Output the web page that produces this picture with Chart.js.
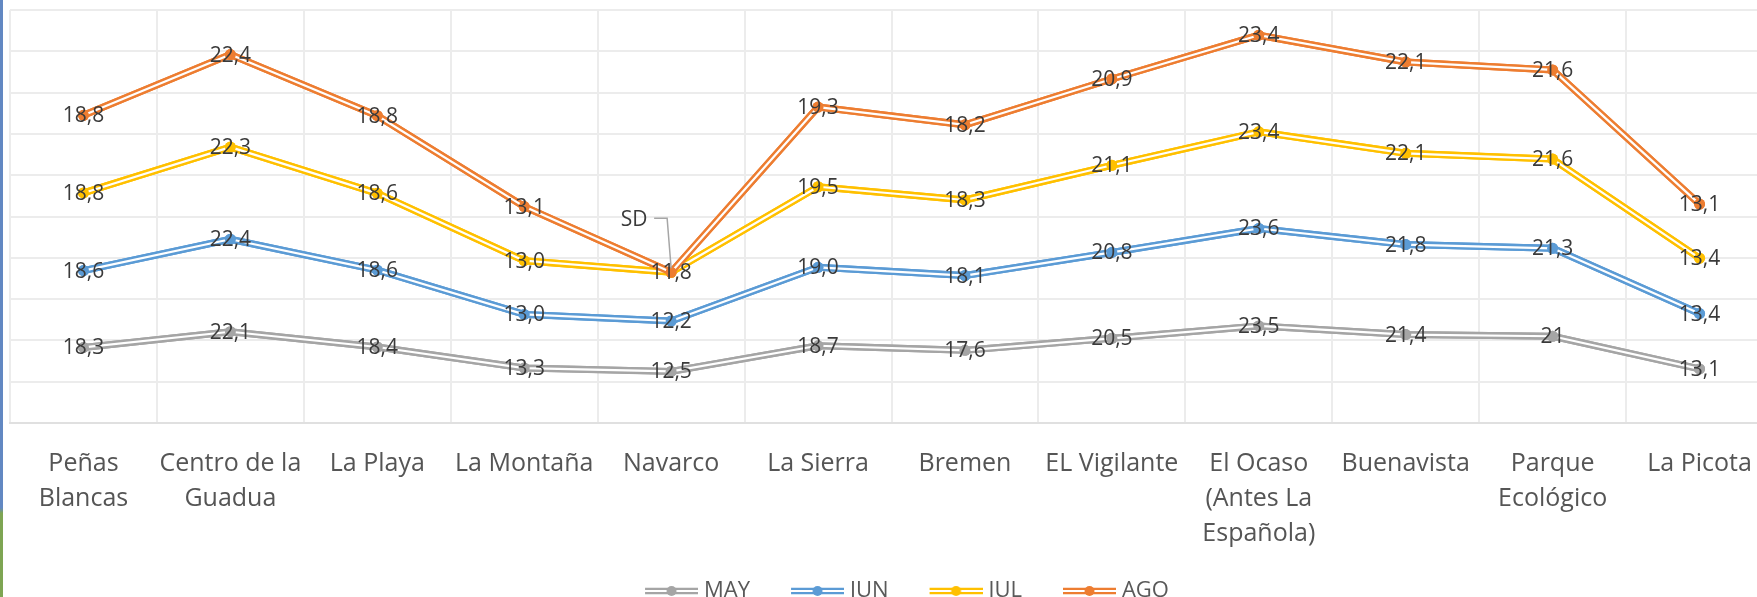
<!DOCTYPE html>
<html lang="es">
<head>
<meta charset="utf-8">
<title>Temperatura por sector</title>
<script src="https://cdn.jsdelivr.net/npm/chart.js@4.4.1/dist/chart.umd.min.js"></script>
<style>
  html, body { margin: 0; padding: 0; background: #ffffff; }
  #marco { position: relative; width: 1757px; height: 597px; overflow: hidden; }
  #grafico { position: absolute; left: 0; top: 0; }
  /* borde de ventana que se ve a la izquierda de la captura */
  #borde {
    position: absolute; left: 0; top: 0; width: 3px; height: 597px;
    background: linear-gradient(to bottom, #6288c2 0, #6288c2 508px, #7ea553 513px, #7ea553 100%);
  }
</style>
</head>
<body>
<div id="marco">
  <canvas id="grafico" width="1780" height="612"></canvas>
  <div id="borde"></div>
</div>
<script>
// --- Datos ---
const sectores = [
  ['Peñas', 'Blancas'], ['Centro de la', 'Guadua'], 'La Playa', 'La Montaña', 'Navarco',
  'La Sierra', 'Bremen', 'EL Vigilante', ['El Ocaso', '(Antes La', 'Española)'],
  'Buenavista', ['Parque', 'Ecológico'], 'La Picota'
];
const meses = ['MAY', 'JUN', 'JUL', 'AGO'];
const valMay = [18.3, 22.1, 18.4, 13.3, 12.5, 18.7, 17.6, 20.5, 23.5, 21.4, 21, 13.1];
const valJun = [18.6, 22.4, 18.6, 13.0, 12.2, 19.0, 18.1, 20.8, 23.6, 21.8, 21.3, 13.4];
const valJul = [18.8, 22.3, 18.6, 13.0, 11.8, 19.5, 18.3, 21.1, 23.4, 22.1, 21.6, 13.4];
const valAgo = [18.8, 22.4, 18.8, 13.1, 0, 19.3, 18.2, 20.9, 23.4, 22.1, 21.6, 13.1];
// textos que no siguen el formato 0,0 (SD = sin dato)
const etiquetasEspeciales = { MAY: { 10: '21' }, AGO: { 4: 'SD' } };
const ejeY = { min: 0, max: 100, paso: 10 };

const colores = ['#a5a5a5', '#5b9bd5', '#ffc000', '#ed7d31'];

Chart.defaults.font.family = "'Open Sans', sans-serif";
Chart.defaults.color = '#595959';

// icono de leyenda: linea doble con punto (la parte izquierda queda transparente)
function iconoLeyenda(color) {
  const c = document.createElement('canvas');
  c.width = 89; c.height = 12;
  const g = c.getContext('2d');
  g.strokeStyle = color; g.lineWidth = 6.5;
  g.beginPath(); g.moveTo(36, 6); g.lineTo(89, 6); g.stroke();
  g.strokeStyle = '#ffffff'; g.lineWidth = 2;
  g.beginPath(); g.moveTo(36, 6); g.lineTo(89, 6); g.stroke();
  g.fillStyle = color;
  g.beginPath(); g.arc(62.5, 6, 5, 0, Math.PI * 2); g.fill();
  return c;
}
const iconos = colores.map(iconoLeyenda);

function textoEtiqueta(serie, i, valor) {
  const esp = etiquetasEspeciales[serie];
  if (esp && esp[i] !== undefined) return esp[i];
  return valor.toFixed(1).replace('.', ',');
}

// linea doble estilo Excel + etiquetas de datos centradas
const dobleLinea = {
  id: 'dobleLinea',
  afterDatasetsDraw(chart) {
    const ctx = chart.ctx;
    chart.data.datasets.forEach((ds, i) => {
      const pts = chart.getDatasetMeta(i).data;
      ctx.save();
      ctx.lineJoin = 'round';
      ctx.strokeStyle = ds.borderColor; ctx.lineWidth = 7;
      ctx.beginPath();
      pts.forEach((p, j) => j ? ctx.lineTo(p.x, p.y) : ctx.moveTo(p.x, p.y));
      ctx.stroke();
      ctx.strokeStyle = '#ffffff'; ctx.lineWidth = 2.2;
      ctx.stroke();
      ctx.restore();
      pts.forEach(p => p.draw(ctx, chart.chartArea));
    });

    ctx.save();
    ctx.font = "21px 'Open Sans', sans-serif";
    ctx.fillStyle = '#3a3a3a';
    ctx.textAlign = 'center';
    ctx.textBaseline = 'middle';
    chart.data.datasets.forEach((ds, i) => {
      const pts = chart.getDatasetMeta(i).data;
      pts.forEach((p, j) => {
        const txt = textoEtiqueta(ds.label, j, ds.data[j]);
        if (txt === 'SD') {
          // etiqueta desplazada con linea guía
          ctx.fillText(txt, p.x - 37, p.y - 52);
          ctx.strokeStyle = '#a6a6a6'; ctx.lineWidth = 1.5;
          ctx.beginPath();
          ctx.moveTo(p.x - 17, p.y - 54);
          ctx.lineTo(p.x - 4, p.y - 54);
          ctx.lineTo(p.x, p.y - 4);
          ctx.stroke();
        } else {
          ctx.fillText(txt, p.x, p.y + 1);
        }
      });
    });
    ctx.restore();
  }
};

const series = [valMay, valJun, valJul, valAgo];

new Chart(document.getElementById('grafico'), {
  type: 'line',
  data: {
    labels: sectores,
    datasets: meses.map((m, i) => ({
      label: m,
      data: series[i],
      borderColor: colores[i],
      backgroundColor: colores[i],
      borderWidth: 7,
      tension: 0,
      fill: false,
      pointRadius: 5.5,
      pointBorderWidth: 0,
      pointBackgroundColor: colores[i]
    }))
  },
  options: {
    responsive: false,
    animation: false,
    devicePixelRatio: 1,
    layout: { padding: { left: 10, top: 10, right: 7, bottom: 0 } },
    scales: {
      x: {
        offset: true,
        grid: { offset: true, color: '#ececec', lineWidth: 2, drawTicks: false },
        border: { color: '#e0e0e0', width: 2 },
        ticks: {
          autoSkip: false, maxRotation: 0, padding: 23,
          color: '#555555',
          font: { size: 25, lineHeight: 1.41 }
        },
        afterFit(scale) { scale.height = 147; }
      },
      y: {
        stacked: true,
        min: ejeY.min, max: ejeY.max,
        grid: { color: '#ececec', lineWidth: 2, drawTicks: false },
        border: { display: false },
        ticks: { display: false, stepSize: ejeY.paso }
      }
    },
    plugins: {
      tooltip: { enabled: false },
      legend: {
        position: 'bottom',
        labels: {
          usePointStyle: true,
          pointStyleWidth: 79,
          padding: 10,
          color: '#595959',
          font: { size: 22 },
          generateLabels(chart) {
            const items = Chart.defaults.plugins.legend.labels.generateLabels(chart);
            items.forEach((it, i) => { it.pointStyle = iconos[i]; });
            return items;
          }
        }
      }
    }
  },
  plugins: [dobleLinea]
});
</script>
</body>
</html>
